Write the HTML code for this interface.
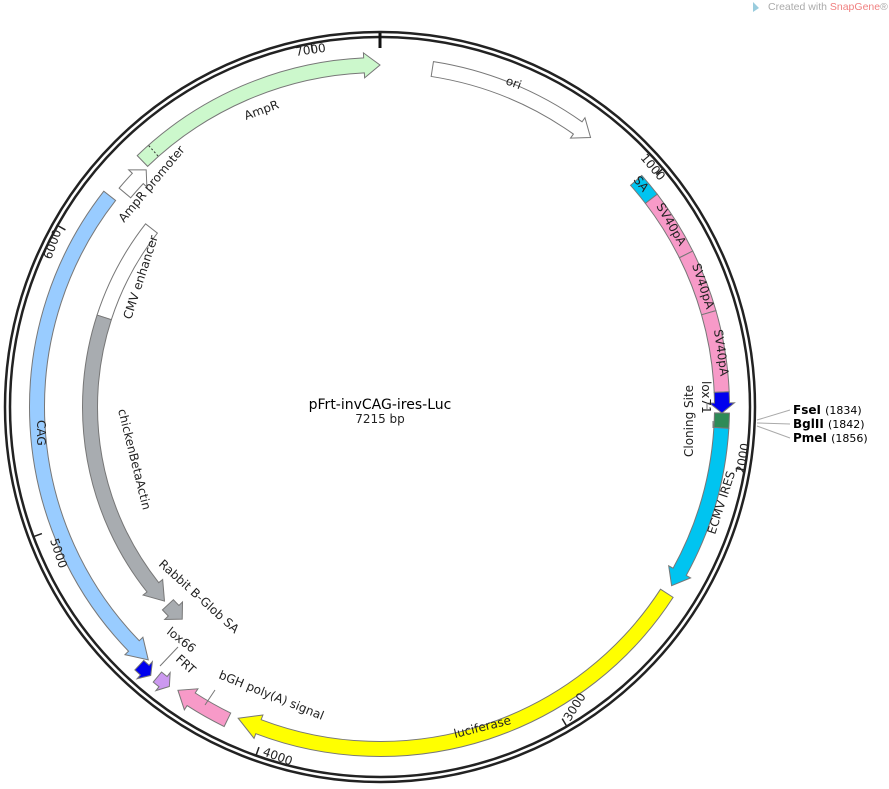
<!DOCTYPE html>
<html><head><meta charset="utf-8"><style>
body{margin:0;background:#fff;width:889px;height:789px;overflow:hidden}
svg{position:absolute;left:0;top:0}
text{font-family:"DejaVu Sans","Liberation Sans",sans-serif;font-size:12px;fill:#222}
</style></head><body>
<svg id="s" width="889" height="789" viewBox="0 0 889 789">
<g id="g"></g>
<circle cx="380" cy="407" r="375" fill="none" stroke="#222" stroke-width="2.5"/>
<circle cx="380" cy="407" r="370" fill="none" stroke="#222" stroke-width="2.5"/>
<line x1="380" y1="33" x2="380" y2="48" stroke="#111" stroke-width="3"/>
<text x="380" y="409" text-anchor="middle" style="font-size:14px;fill:#000">pFrt-invCAG-ires-Luc</text>
<text x="380" y="423" text-anchor="middle" style="font-size:12px">7215 bp</text>
<path d="M753 2 L759 8 L753 12 Z" fill="#9cd"/>
<text x="768" y="10" style="font-family:'Liberation Sans',sans-serif;font-size:10.5px;fill:#aaa">Created with <tspan fill="#f08080">SnapGene</tspan>®</text>
<text transform="translate(296,56) rotate(-8)">7000</text>
<text transform="translate(640,158) rotate(50)">1000</text>
<text transform="translate(744,474) rotate(-80)">2000</text>
<text transform="translate(570,722) rotate(-58)">3000</text>
<text transform="translate(262,755) rotate(20)">4000</text>
<text transform="translate(50,540) rotate(72)">5000</text>
<text transform="translate(51,260) rotate(-70)">6000</text>
<text transform="translate(505,84) rotate(20)">ori</text>
<text transform="translate(246,120) rotate(-20)">AmpR</text>
<text transform="translate(124,223) rotate(-50)">AmpR promoter</text>
<text transform="translate(633,180) rotate(52)">SA</text>
<text transform="translate(656,206) rotate(60)">SV40pA</text>
<text transform="translate(692,265) rotate(72)">SV40pA</text>
<text transform="translate(714,330) rotate(82)">SV40pA</text>
<text transform="translate(702,381) rotate(90)">lox71</text>
<text transform="translate(693,457) rotate(-90)">Cloning Site</text>
<text transform="translate(715,535) rotate(-72)" style="fill:#222">ECMV IRES</text>
<text transform="translate(455,738) rotate(-14)">luciferase</text>
<text transform="translate(37,420) rotate(90)">CAG</text>
<text transform="translate(131,320) rotate(-72)">CMV enhancer</text>
<text transform="translate(118,410) rotate(76)">chickenBetaActin</text>
<text transform="translate(158,565) rotate(42)">Rabbit B-Glob SA</text>
<text transform="translate(166,633) rotate(38)">lox66</text>
<text transform="translate(175,660) rotate(42)">FRT</text>
<text transform="translate(218,678) rotate(22)">bGH poly(A) signal</text>
<g stroke="#aaa" stroke-width="1" fill="none">
<line x1="757" y1="420" x2="790" y2="410"/>
<line x1="757" y1="423" x2="790" y2="424"/>
<line x1="757" y1="426" x2="790" y2="438"/>
<line x1="713" y1="421" x2="713" y2="428" stroke="#777"/>
<line x1="707" y1="403" x2="707" y2="409" stroke="#777"/>
<line x1="178" y1="647" x2="160" y2="666" stroke="#777"/>
<line x1="215" y1="690" x2="205" y2="705" stroke="#777"/>
</g>
<text x="793" y="414" style="font-weight:bold;fill:#000">FseI <tspan style="font-weight:normal;font-size:11px">(1834)</tspan></text>
<text x="793" y="428" style="font-weight:bold;fill:#000">BglII <tspan style="font-weight:normal;font-size:11px">(1842)</tspan></text>
<text x="793" y="442" style="font-weight:bold;fill:#000">PmeI <tspan style="font-weight:normal;font-size:11px">(1856)</tspan></text>
</svg>
<script>
var cx=380,cy=407,g=document.getElementById('g'),NS='http://www.w3.org/2000/svg';
function P(r,a){a=a*Math.PI/180;return (cx+r*Math.sin(a)).toFixed(2)+' '+(cy-r*Math.cos(a)).toFixed(2);}
function add(d,f,st){var p=document.createElementNS(NS,'path');p.setAttribute('d',d);p.setAttribute('fill',f);p.setAttribute('stroke',st||'#777');p.setAttribute('stroke-width','1');g.appendChild(p);}
function seg(r,a0,a1,w,f){var ro=r+w/2,ri=r-w/2,l=Math.abs(a1-a0)>180?1:0,sw=a1>a0?1:0;
add('M'+P(ro,a0)+' A'+ro+' '+ro+' 0 '+l+' '+sw+' '+P(ro,a1)+' L'+P(ri,a1)+' A'+ri+' '+ri+' 0 '+l+' '+(1-sw)+' '+P(ri,a0)+' Z',f);}
function arr(r,from,to,w,f,hl){hl=hl||16;var s=to>from?1:-1,h=hl/r*180/Math.PI,b=to-s*h,ro=r+w/2,ri=r-w/2,e=5,sw=s>0?1:0,l=Math.abs(b-from)>180?1:0;
add('M'+P(ro,from)+' A'+ro+' '+ro+' 0 '+l+' '+sw+' '+P(ro,b)+' L'+P(ro+e,b)+' L'+P(r,to)+' L'+P(ri-e,b)+' L'+P(ri,b)+' A'+ri+' '+ri+' 0 '+l+' '+(1-sw)+' '+P(ri,from)+' Z',f);}
var R=342,W=15;
arr(R,8.8,38,W,'#fff');
arr(R,-44,0,W,'#ccf8cc');
arr(333,-50,-44.6,W,'#fff',12);
seg(R,48.5,52.5,W,'#00c4f0');
seg(R,52.5,63.5,W,'#f79ac8');seg(R,63.5,74,W,'#f79ac8');seg(R,74,87.5,W,'#f79ac8');
arr(R,87.5,91,W,'#0000ee',10);
seg(R,91,93.5,W,'#2e8b57');
arr(R,93.5,121.5,W,'#00c4f0');
arr(R,123,204.5,W,'#ffff00',22);
arr(348,206,215.5,W,'#f79ac8');
arr(350,219.5,217,W-2,'#cc99f0',8);
arr(353,223,220.5,W-2,'#0000ee',8);
seg(290,-52,-72,W,'#fff');
arr(290,-72,-132,W,'#a8acb0',18);
arr(290,-133,-137,W,'#a8acb0',12);
arr(343,308,222.5,W,'#99ccff',20);
for(var k=1;k<=7;k++){var a=k*1000/7215*360;var l=document.createElementNS(NS,'path');l.setAttribute('d','M'+P(369,a)+' L'+P(361,a));l.setAttribute('stroke','#222');l.setAttribute('stroke-width','1.5');g.appendChild(l);}
var d=document.createElementNS(NS,'path');d.setAttribute('d','M'+P(349,-41.5)+' L'+P(335,-41.5));d.setAttribute('stroke','#333');d.setAttribute('stroke-dasharray','2 2');g.appendChild(d);
</script>
</body></html>
